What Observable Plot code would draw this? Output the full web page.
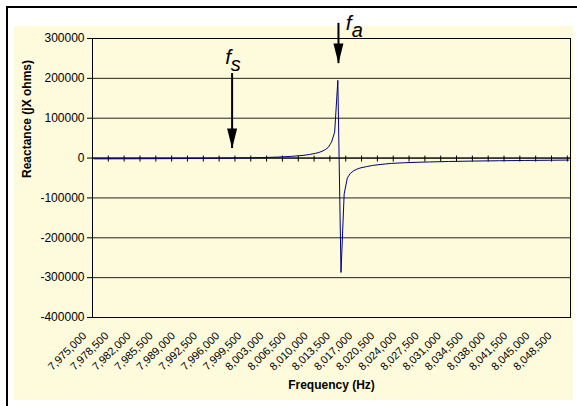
<!DOCTYPE html>
<html><head><meta charset="utf-8">
<script src="https://cdn.jsdelivr.net/npm/d3@7"></script>
<script src="https://cdn.jsdelivr.net/npm/@observablehq/plot@0.6"></script>
<style>
body{margin:0;background:#fff;}
#wrap{position:relative;width:577px;height:406px;overflow:hidden;font-family:"Liberation Sans",Arial,sans-serif;}
#frame{position:absolute;left:6px;top:6px;width:620px;height:440px;border-left:2px solid #000;border-top:2px solid #000;background:#fff;}
#cream{position:absolute;left:14px;top:26px;width:559px;height:374px;background:#FEFADC;}
#wrap svg{position:absolute;left:0;top:0;}
</style></head><body><div id="wrap"><div id="frame"></div><div id="cream"></div></div>
<script>
// Frequency (Hz) and reactance (jX ohms)
const freq = [7975000, 7980000, 7985000, 7990000, 7994000, 7997000, 8000000, 8002000, 8004000, 8006000,
  8008000, 8009000, 8010000, 8010500, 8011000, 8011500, 8012000, 8012500, 8013000, 8013500,
  8014000, 8014500, 8015000, 8015500, 8016000, 8016500, 8017000, 8018000, 8019000, 8020000,
  8021000, 8022000, 8024000, 8026000, 8028000, 8031000, 8035000, 8039000, 8043000, 8047000, 8050000];
const reactance = [-2000, -1800, -1500, -1100, -600, 0, 800, 1500, 2500, 4100,
  6700, 8900, 12000, 14000, 17000, 21000, 27000, 40000, 65000, 195000,
  -287000, -90000, -50000, -38000, -32000, -28000, -25000, -21500, -18500, -16500,
  -14800, -13300, -11700, -10600, -9700, -8600, -7500, -6700, -6000, -5500, -5000];

// Axis tick labels
const xLabels = [7975000, 7978500, 7982000, 7985500, 7989000, 7992500, 7996000, 7999500, 8003000, 8006500,
  8010000, 8013500, 8017000, 8020500, 8024000, 8027500, 8031000, 8034500, 8038000, 8041500, 8045000, 8048500];
const yTicks = [-400000, -300000, -200000, -100000, 0, 100000, 200000, 300000];

// Annotations: series (fs) and anti-resonance (fa) markers
const annotName = ["f", "f"];
const annotSub = ["s", "a"];
const annotFreq = [7996800, 8013600];
const arrowTop = [212000, 338000];
const arrowTip = [24000, 237000];
const nameFreq = [7995700, 8014750];
const nameY = [237000, 321000];
const subFreq = [7996600, 8015700];
const subY = [219000, 303000];

// category axis: 500 Hz per category, minor ticks every 5 categories
const catStep = 500;
const xDomain = [freq[0] - catStep / 2, freq[freq.length - 1] + catStep / 2];
const xTickMarks = d3.range(xDomain[0], xDomain[1], catStep * 5);

const fmt = d3.format(",");
const headSymbol = {
  draw(context) {
    context.moveTo(-5, -20);
    context.lineTo(5, -20);
    context.lineTo(0, 0);
    context.closePath();
  }
};
const ann = annotFreq.map((f, i) => ({f, top: arrowTop[i], tip: arrowTip[i],
  name: annotName[i], nx: nameFreq[i], ny: nameY[i], sub: annotSub[i], sx: subFreq[i], sy: subY[i]}));

const chart = Plot.plot({
  width: 577, height: 406,
  marginLeft: 92, marginRight: 7, marginTop: 38, marginBottom: 89,
  style: {background: "transparent", overflow: "visible", fontFamily: "'Liberation Sans', Arial, sans-serif"},
  x: {domain: xDomain, axis: null},
  y: {domain: [-400000, 300000]},
  marks: [
    Plot.ruleY(yTicks, {stroke: "#222", strokeWidth: 1}),
    Plot.frame({stroke: "#000", strokeWidth: 1}),
    Plot.axisY({ticks: yTicks, tickFormat: d => String(d), tickSize: 5, tickPadding: 3, fontSize: 12, stroke: "#000", color: "#000"}),
    Plot.ruleY([0], {stroke: "#000"}),
    Plot.ruleX(xTickMarks, {x: d => d, y1: () => 0, y2: () => 0, insetTop: -2, insetBottom: -4, stroke: "#000"}),
    Plot.line(freq, {x: d => d, y: (d, i) => reactance[i], stroke: "#000080", strokeWidth: 1}),
    Plot.text(xLabels, {x: d => d, frameAnchor: "bottom", text: d => fmt(d), rotate: -45, textAnchor: "end",
      dx: -7, dy: 19, fontSize: 11, fill: "#000"}),
    Plot.text(["Frequency (Hz)"], {frameAnchor: "bottom", dy: 71, fontSize: 12, fontWeight: "bold", fill: "#000"}),
    Plot.text(["Reactance (jX ohms)"], {frameAnchor: "left", dx: -65, rotate: -90, fontSize: 12, fontWeight: "bold", fill: "#000"}),
    Plot.ruleX(ann, {x: "f", y1: "top", y2: "tip", stroke: "#000", strokeWidth: 2, clip: false}),
    Plot.dot(ann, {x: "f", y: "tip", symbol: headSymbol, fill: "#000", stroke: null}),
    Plot.text(ann, {x: "nx", y: "ny", text: "name", textAnchor: "start", lineAnchor: "bottom",
      fontSize: 21, fontStyle: "italic", fill: "#000"}),
    Plot.text(ann, {x: "sx", y: "sy", text: "sub", textAnchor: "start", lineAnchor: "bottom",
      fontSize: 20, fontStyle: "italic", fill: "#000"})
  ]
});
document.getElementById("wrap").appendChild(chart);
</script>
</body></html>
